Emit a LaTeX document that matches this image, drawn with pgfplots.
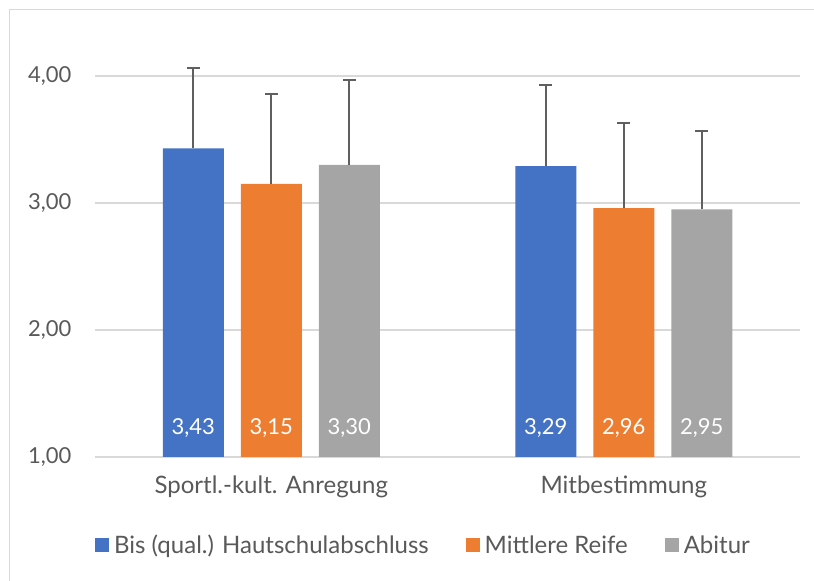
\documentclass[border=0pt]{standalone}
\usepackage{pgfplots}
\pgfplotsset{compat=1.18}
\usepackage{fontspec}
\setmainfont{Lato}
\definecolor{cblue}{RGB}{68,114,196}
\definecolor{corange}{RGB}{237,125,49}
\definecolor{cgray}{RGB}{165,165,165}
\definecolor{gridc}{RGB}{217,217,217}
\definecolor{labc}{RGB}{89,89,89}
\definecolor{errc}{RGB}{95,95,95}
\begin{document}
\begin{tikzpicture}[x=1pt,y=1pt]
\useasboundingbox (0,0) rectangle (814,581);
\draw[color=gridc, line width=1.5pt] (9.5,0) -- (9.5,571.5) -- (814,571.5);
\begin{axis}[
  at={(95pt,124pt)}, anchor=south west,
  scale only axis, width=705pt, height=444.5pt,
  xmin=-0.5, xmax=1.5, ymin=1, ymax=4.5,
  xtick={0,1}, xticklabels={Sportl.-kult. Anregung, Mitbestimmung},
  ytick={1,2,3,4}, yticklabels={{1,00},{2,00},{3,00},{4,00}},
  ymajorgrids, major grid style={color=gridc, line width=1.5pt},
  axis line style={draw=none}, major tick style={draw=none},
  yticklabel style={font=\fontsize{22}{26}\selectfont, text=labc, xshift=-20pt},
  xticklabel style={font=\fontsize{24}{28}\selectfont, text=labc, yshift=-15pt},
  legend image code/.code={\fill[#1] (0pt,-7pt) rectangle (14pt,7pt);},
  legend style={at={(0.466,-0.198)}, anchor=center, draw=none, fill=none,
    legend columns=3, font=\fontsize{24}{28}\selectfont, text=labc,
    /tikz/every odd column/.append style={column sep=3pt},
    /tikz/every even column/.append style={column sep=35pt}},
]
\addplot[ybar, bar width=61pt, bar shift=-78pt, fill=cblue, draw=none]
  coordinates {(0,3.43) (1,3.29)};
\addlegendentry{Bis (qual.) Hautschulabschluss}
\addplot[ybar, bar width=61pt, bar shift=0pt, fill=corange, draw=none]
  coordinates {(0,3.15) (1,2.96)};
\addlegendentry{Mittlere Reife}
\addplot[ybar, bar width=61pt, bar shift=78pt, fill=cgray, draw=none]
  coordinates {(0,3.30) (1,2.95)};
\addlegendentry{Abitur}
\addplot[draw=none, forget plot,
  error bars/.cd, y dir=plus, y explicit,
  error bar style={line width=2pt, color=errc},
  error mark options={rotate=90, mark size=6.5pt, line width=2pt, color=errc}]
  coordinates {(-0.2213,3.43) +- (0,0.633) (0,3.15) +- (0,0.705) (0.2213,3.30) +- (0,0.668)
               (0.7787,3.29) +- (0,0.64) (1,2.96) +- (0,0.672) (1.2213,2.95) +- (0,0.617)};
\addplot[draw=none, forget plot, nodes near coords, point meta=explicit symbolic,
  every node near coord/.style={anchor=center, text=white, font=\fontsize{22}{26}\selectfont}]
  coordinates {(-0.2213,1.228) [{3,43}] (0,1.228) [{3,15}] (0.2213,1.228) [{3,30}]
               (0.7787,1.228) [{3,29}] (1,1.228) [{2,96}] (1.2213,1.228) [{2,95}]};
\end{axis}
\end{tikzpicture}
\end{document}
